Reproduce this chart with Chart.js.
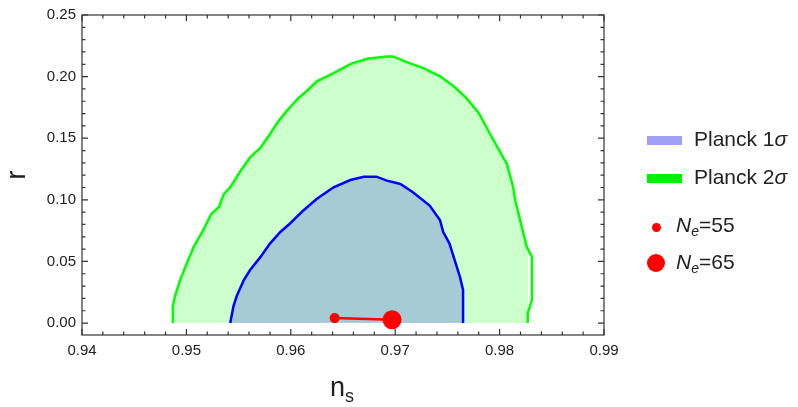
<!DOCTYPE html>
<html>
<head>
<meta charset="utf-8">
<script src="https://cdn.jsdelivr.net/npm/chart.js@4.4.0/dist/chart.umd.min.js"></script>
<style>
body { margin: 0; background: #fff; font-family: "Liberation Sans", Arial, sans-serif; }
#wrap { position: relative; width: 798px; height: 407px; }
#plot { position: absolute; left: 0; top: 0; }
.lbl { position: absolute; white-space: nowrap; line-height: 1; color: #222; }
.sw { position: absolute; width: 35px; height: 9px; }
.dot { position: absolute; border-radius: 50%; background: #ff0000; }
.lbl sub { font-size: 14px; vertical-align: -4px; line-height: 0; }
</style>
</head>
<body>
<div id="wrap">
  <canvas id="plot" width="798" height="407"></canvas>
  <div class="lbl" style="left:330px;top:374px;font-size:27px;">n<sub style="font-size:18px;vertical-align:-6px;">s</sub></div>

  <div class="sw" style="left:647px;top:136px;background:#a0a0f4;"></div>
  <div class="lbl" style="left:694px;top:128px;font-size:21px;">Planck 1<i>σ</i></div>
  <div class="sw" style="left:647px;top:174px;background:#00f000;"></div>
  <div class="lbl" style="left:694px;top:166px;font-size:21px;">Planck 2<i>σ</i></div>

  <div class="dot" style="left:652px;top:223px;width:9px;height:9px;"></div>
  <div class="lbl" style="left:676px;top:214px;font-size:21px;"><i>N</i><sub><i>e</i></sub>=55</div>
  <div class="dot" style="left:647px;top:254px;width:18px;height:18px;"></div>
  <div class="lbl" style="left:676px;top:251px;font-size:21px;"><i>N</i><sub><i>e</i></sub>=65</div>
</div>
<script>
// Planck 2 sigma contour (n_s, r)
const green2sNs = [0.9487, 0.9487, 0.9489, 0.9494, 0.9499, 0.9507, 0.9516, 0.9524, 0.9531, 0.9536,
    0.9542, 0.9552, 0.9561, 0.9571, 0.9580, 0.9587, 0.9596, 0.9606, 0.9615, 0.9625,
    0.9641, 0.9657, 0.9673, 0.9692, 0.9698, 0.9711, 0.9727, 0.9743, 0.9756, 0.9768,
    0.9780, 0.9791, 0.9807, 0.9813, 0.9815, 0.9819, 0.9826, 0.9831, 0.9831, 0.9827, 0.9827];
const green2sR = [0, 0.0134, 0.0215, 0.0349, 0.0456, 0.0618, 0.0752, 0.0887, 0.0940, 0.1048,
    0.1102, 0.1236, 0.1344, 0.1424, 0.1532, 0.1626, 0.1720, 0.1815, 0.1881, 0.1962,
    0.2029, 0.2102, 0.2145, 0.2164, 0.2164, 0.2118, 0.2069, 0.2002, 0.1922, 0.1827,
    0.1706, 0.1532, 0.1290, 0.1102, 0.0994, 0.0860, 0.0618, 0.0537, 0.0188, 0.0081, 0];

// Planck 1 sigma contour
const blue1sNs = [0.9542, 0.9545, 0.9548, 0.9555, 0.9561, 0.9571, 0.9580, 0.9590, 0.9599, 0.9612,
    0.9625, 0.9641, 0.9657, 0.9670, 0.9682, 0.9692, 0.9705, 0.9717, 0.9733, 0.9743,
    0.9746, 0.9752, 0.9759, 0.9762, 0.9765, 0.9765];
const blue1sR = [0, 0.0134, 0.0215, 0.0349, 0.0430, 0.0537, 0.0645, 0.0739, 0.0806, 0.0914,
    0.1008, 0.1102, 0.1161, 0.1188, 0.1188, 0.1156, 0.1129, 0.1061, 0.0954, 0.0833,
    0.0739, 0.0645, 0.0456, 0.0376, 0.0269, 0];

// model predictions, N_e = 55 and 65
const neValues = [55, 65];
const neNs = [0.9642, 0.9697];
const neR = [0.0040, 0.0027];

const xTicks = [0.94, 0.95, 0.96, 0.97, 0.98, 0.99];
const yTicks = [0.00, 0.05, 0.10, 0.15, 0.20, 0.25];

const pts = (xs, ys) => xs.map((v, i) => ({x: v, y: ys[i]}));

// Mathematica style frame with inward ticks
const frameTicks = {
    id: 'frameTicks',
    afterDatasetsDraw(chart) {
        const {ctx, chartArea: a, scales: {x, y}} = chart;
        ctx.save();
        ctx.strokeStyle = '#333';
        ctx.lineWidth = 1.2;
        ctx.strokeRect(a.left, a.top, a.right - a.left, a.bottom - a.top);
        ctx.beginPath();
        for (let i = 0; i <= 25; i++) {
            const px = x.getPixelForValue(0.94 + i * 0.002);
            const len = i % 5 === 0 ? 6 : 3.5;
            ctx.moveTo(px, a.bottom); ctx.lineTo(px, a.bottom - len);
            ctx.moveTo(px, a.top); ctx.lineTo(px, a.top + len);
        }
        for (let i = 0; i <= 25; i++) {
            const py = y.getPixelForValue(i * 0.01);
            const len = i % 5 === 0 ? 6 : 3.5;
            ctx.moveTo(a.left, py); ctx.lineTo(a.left + len, py);
            ctx.moveTo(a.right, py); ctx.lineTo(a.right - len, py);
        }
        ctx.stroke();
        ctx.restore();
    }
};

const tickFont = {family: '"Liberation Sans", Arial, sans-serif', size: 15};

new Chart(document.getElementById('plot'), {
    type: 'line',
    data: {
        datasets: [{
            label: 'Planck 2σ',
            data: pts(green2sNs, green2sR),
            borderColor: '#00ff00',
            backgroundColor: '#ccffcc',
            borderWidth: 2.5,
            pointRadius: 0,
            fill: 'origin',
            order: 3
        }, {
            label: 'Planck 1σ',
            data: pts(blue1sNs, blue1sR),
            borderColor: '#0000ff',
            backgroundColor: '#a6cbd5',
            borderWidth: 2.5,
            pointRadius: 0,
            fill: 'origin',
            order: 2
        }, {
            label: 'N_e',
            data: pts(neNs, neR),
            borderColor: '#ff0000',
            backgroundColor: '#ff0000',
            borderWidth: 2.5,
            pointRadius: neValues.map(n => n === 55 ? 5 : 9.5),
            pointBorderWidth: 0,
            fill: false,
            order: 1
        }]
    },
    options: {
        responsive: false,
        animation: false,
        layout: {
            padding: {top: 13, right: 194, left: 0, bottom: 0}
        },
        scales: {
            x: {
                type: 'linear',
                min: 0.94,
                max: 0.99,
                grid: {display: false, drawTicks: false},
                border: {display: false},
                afterBuildTicks: s => { s.ticks = xTicks.map(v => ({value: v})); },
                afterFit: s => { s.height = 72; },
                ticks: {
                    padding: 7,
                    color: '#222',
                    font: tickFont,
                    maxRotation: 0,
                    callback: v => v.toFixed(2)
                }
            },
            y: {
                type: 'linear',
                min: -0.0097,
                max: 0.25,
                grid: {display: false, drawTicks: false},
                border: {display: false},
                afterBuildTicks: s => { s.ticks = yTicks.map(v => ({value: v})); },
                afterFit: s => { s.width = 82; },
                ticks: {
                    padding: 6,
                    color: '#222',
                    font: tickFont,
                    callback: v => v.toFixed(2)
                },
                title: {
                    display: true,
                    text: 'r',
                    color: '#222',
                    padding: {top: 1, bottom: 0},
                    font: {family: '"Liberation Sans", Arial, sans-serif', size: 27}
                }
            }
        },
        plugins: {
            legend: {display: false},
            tooltip: {enabled: false}
        }
    },
    plugins: [frameTicks]
});
</script>
</body>
</html>
